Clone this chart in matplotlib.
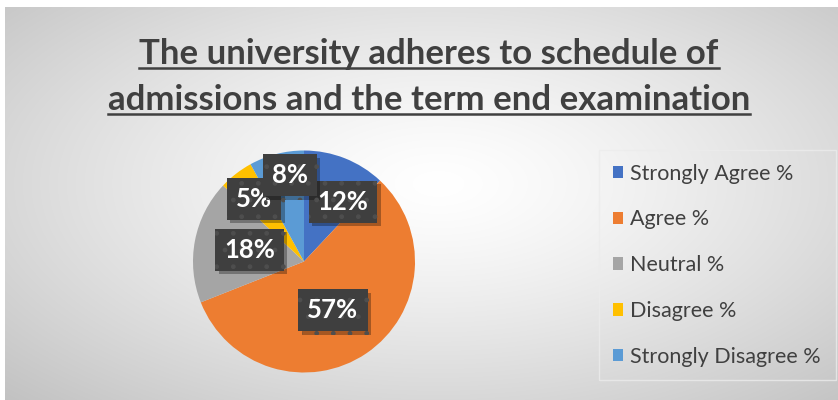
import numpy as np
import matplotlib
matplotlib.use("Agg")
import matplotlib.pyplot as plt
from matplotlib.patches import Patch
from matplotlib.lines import Line2D
import matplotlib.patheffects as pe

# ---- data ----
categories = ["Strongly Agree %", "Agree %", "Neutral %", "Disagree %", "Strongly Disagree %"]
values = [12, 57, 18, 5, 8]
colors = ["#4472C4", "#ED7D31", "#A5A5A5", "#FFC000", "#5B9BD5"]
title_lines = ["The university adheres to schedule of",
               "admissions and the term end examination"]
# label anchor offsets (fraction of radius) - style only
label_offsets = [(0.351, 0.536), (0.261, -0.441), (-0.491, 0.104), (-0.450, 0.563), (-0.126, 0.775)]

W, H = 838, 400
FONT = "Lato"
TXT = "#404040"

fig = plt.figure(figsize=(W / 100, H / 100), dpi=100)
fig.patch.set_facecolor("white")

# ---- background gradient (chart area) ----
bx0, by0, bx1, by1 = 5, 7, 838, 400  # pixel box (top-left origin)
ax_bg = fig.add_axes([bx0 / W, (H - by1) / H, (bx1 - bx0) / W, (by1 - by0) / H])
gy, gx = np.mgrid[0:1:300j, 0:1:600j]
d = np.sqrt(((gx - 0.52) / 0.52) ** 2 + ((gy - 0.45) / 0.55) ** 2) / np.sqrt(2)
g = 1.0 - 0.24 * np.clip(d, 0, 1.2) ** 1.3
ax_bg.imshow(np.dstack([g, g, g]), aspect="auto", extent=[0, 1, 0, 1], origin="upper",
             interpolation="bilinear")
ax_bg.set_axis_off()

# ---- title ----
cx_title = 429
for line, base in zip(title_lines, [64, 110]):
    t = fig.text(cx_title / W, (H - base) / H, line, ha="center", va="baseline",
                 fontsize=25, fontweight="bold", family=FONT, color=TXT)
    fig.canvas.draw()
    bb = t.get_window_extent()
    uy = (H - base - 4) / H
    fig.add_artist(Line2D([bb.x0 / W, bb.x1 / W], [uy, uy], color=TXT, lw=1.8,
                          transform=fig.transFigure))

# ---- pie ----
pcx, pcy, R = 304, 261.5, 111
half = 130
ax = fig.add_axes([(pcx - half) / W, (H - pcy - half) / H, 2 * half / W, 2 * half / H])
wedges, _ = ax.pie(values, colors=colors, startangle=90, counterclock=False, radius=1,
                   wedgeprops=dict(linewidth=0))
ax.set_xlim(-half / R, half / R)
ax.set_ylim(-half / R, half / R)
ax.set_axis_off()

for v, (ox, oy) in zip(values, label_offsets):
    t = ax.text(ox, oy, f"{v}%", ha="center", va="center", fontsize=18.5, fontweight="bold",
                family=FONT, color="white", zorder=5,
                bbox=dict(boxstyle="square,pad=0.35", facecolor="#3F3F3F",
                          edgecolor="#4E4E4E", linewidth=0, hatch="."))
    t.get_bbox_patch().set_path_effects([
        pe.SimplePatchShadow(offset=(2.5, -2.5), shadow_rgbFace="black", alpha=0.3),
        pe.Normal()])

# ---- legend ----
handles = [Patch(facecolor=c, edgecolor="none") for c in colors]
leg = fig.legend(handles, categories, loc="upper left",
                 bbox_to_anchor=(599 / W, (H - 370) / H, 237 / W, 220 / H), mode="expand",
                 prop=dict(family=FONT, size=15.5), labelcolor=TXT,
                 handlelength=0.5, handleheight=0.5, handletextpad=0.3,
                 labelspacing=1.2, borderpad=0.63, borderaxespad=0,
                 frameon=True, fancybox=False)
leg.get_frame().set_facecolor("none")
leg.get_frame().set_edgecolor("#ececec")
leg.get_frame().set_linewidth(1.0)

fig.savefig("out.png", dpi=100)
